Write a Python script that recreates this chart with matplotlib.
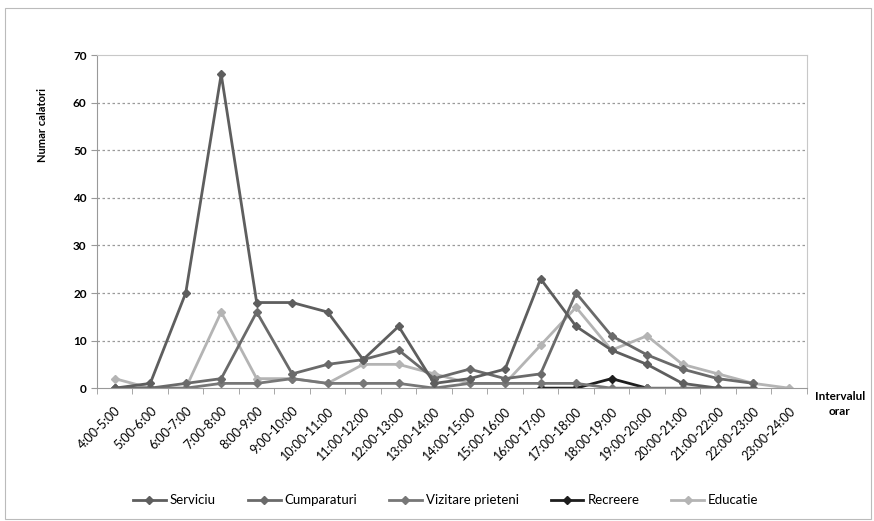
import numpy as np
import matplotlib.pyplot as plt
from matplotlib.patches import Rectangle
from matplotlib.lines import Line2D

plt.rcParams['font.family'] = ['Lato', 'DejaVu Sans']

# time intervals on the x axis
intervals = ["4:00-5:00", "5:00-6:00", "6:00-7:00", "7:00-8:00", "8:00-9:00",
             "9:00-10:00", "10:00-11:00", "11:00-12:00", "12:00-13:00", "13:00-14:00",
             "14:00-15:00", "15:00-16:00", "16:00-17:00", "17:00-18:00", "18:00-19:00",
             "19:00-20:00", "20:00-21:00", "21:00-22:00", "22:00-23:00", "23:00-24:00"]

nan = np.nan
serviciu = [0, 1, 20, 66, 18, 18, 16, 6, 13, 1, 2, 4, 23, 13, 8, 5, 1, 0, 0, nan]
cumparaturi = [0, 0, 1, 2, 16, 3, 5, 6, 8, 2, 4, 2, 3, 20, 11, 7, 4, 2, 1, nan]
vizitare = [0, 0, 0, 1, 1, 2, 1, 1, 1, 0, 1, 1, 1, 1, 0, 0, 0, 0, nan, nan]
recreere = [nan] * 12 + [0, 0, 2, 0] + [nan] * 4
educatie = [2, 0, 0, 16, 2, 2, 1, 5, 5, 3, 1, 1, 9, 17, 8, 11, 5, 3, 1, 0]

series_names = ["Serviciu", "Cumparaturi", "Vizitare prieteni", "Recreere", "Educatie"]
series_data = [serviciu, cumparaturi, vizitare, recreere, educatie]
series_colors = ["#5e5e5e", "#6a6a6a", "#777777", "#1e1e1e", "#b4b4b4"]

fig = plt.figure(figsize=(8.74, 5.21), dpi=100)
ax = fig.add_axes([0.111, 0.255, 0.812, 0.639])

x = np.arange(len(intervals))
# draw back to front so the dark morning line sits on top
for name, vals, col in list(zip(series_names, series_data, series_colors))[::-1]:
    ax.plot(x, vals, color=col, lw=2, marker="D", ms=4.5, mfc=col, mec=col, label=name)

ax.set_xlim(-0.5, len(intervals) - 0.5)
ax.set_ylim(0, 70)
ax.set_yticks(range(0, 71, 10))
ax.set_yticklabels([str(v) for v in range(0, 71, 10)], fontsize=8.5, fontweight="bold")
for v in range(10, 70, 10):
    ax.axhline(v, color="#9a9a9a", lw=0.9, ls=(0, (2, 2)), zorder=0)

# category ticks between the labels, like the spreadsheet chart
ax.set_xticks(x)
ax.set_xticklabels(intervals, rotation=45, ha="right", rotation_mode="anchor",
                   fontsize=9)
ax.set_xticks(np.arange(-0.5, len(intervals), 1), minor=True)
ax.tick_params(axis="x", which="major", length=0, pad=12)
ax.tick_params(axis="x", which="minor", length=4, color="#999999")
ax.tick_params(axis="y", length=4, color="#999999")

for side in ["top", "right"]:
    ax.spines[side].set_color("#c8c8c8")
for side in ["left", "bottom"]:
    ax.spines[side].set_color("#999999")

fig.text(0.049, 0.76, "Numar calatori", rotation=90, ha="center", va="center",
         fontsize=8, fontweight="bold")
fig.text(0.961, 0.225, "Intervalul\norar", ha="center", va="center",
         fontsize=8.5, fontweight="bold", linespacing=1.5)

handles = [Line2D([], [], color=c, lw=2, marker="D", ms=4.5, mfc=c, mec=c)
           for c in series_colors]
fig.legend(handles, series_names, loc="center", bbox_to_anchor=(0.51, 0.04), ncol=5,
           frameon=False, fontsize=9.5, handlelength=2.5, columnspacing=2.4,
           handletextpad=0.3)

fig.patches.append(Rectangle((0.006, 0.004), 0.99, 0.98, transform=fig.transFigure,
                             fill=False, ec="#bbbbbb", lw=0.8))

fig.savefig("out.png", dpi=100)
